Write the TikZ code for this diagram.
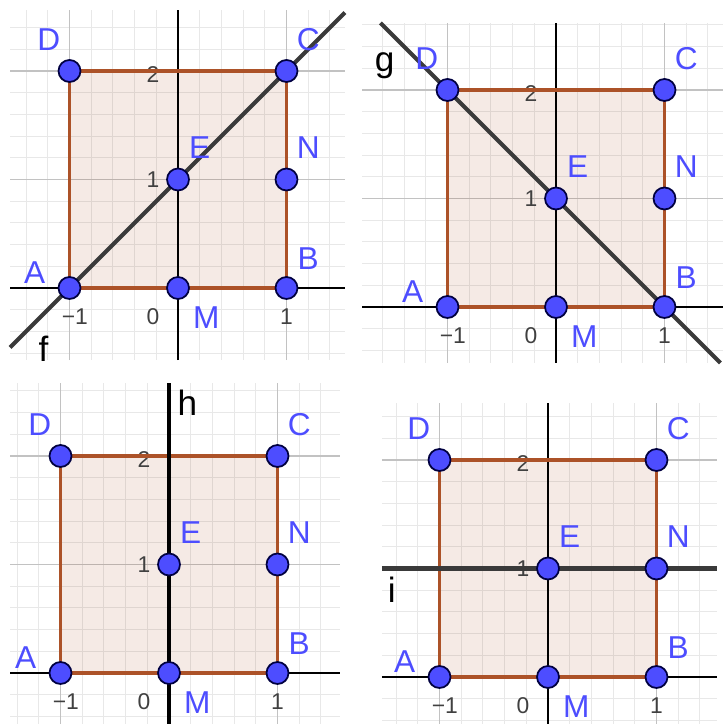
\documentclass[tikz,border=0pt]{standalone}
\usepackage{fontspec}
\setmainfont{Liberation Sans}
\usetikzlibrary{calc}

\definecolor{ggblue}{RGB}{77,77,255}
\definecolor{ggbrown}{RGB}{153,51,0}
\definecolor{ggedge}{RGB}{172,82,40}
\definecolor{ggline}{RGB}{58,58,58}

\tikzset{
  minorgrid/.style={draw=black!9,line width=0.3pt},
  majorgrid/.style={draw=black!24,line width=0.4pt},
  axisline/.style={draw=black,line width=0.45pt},
  sqfill/.style={fill=ggbrown,fill opacity=0.1},
  sqedge/.style={draw=ggedge,line width=1pt,line join=round},
  pt/.style={circle,fill=ggblue,draw=black!75!blue,line width=0.5pt,
    minimum size=0.22cm,inner sep=0pt},
  ptlbl/.style={text=ggblue,font=\fontsize{9}{10}\selectfont,inner sep=0pt},
  ticklbl/.style={text=black!75,font=\fontsize{6.5}{7}\selectfont,inner sep=0pt},
  linelbl/.style={text=black,font=\fontsize{10}{11}\selectfont,inner sep=0pt},
  bisect/.style={draw=ggline,line width=1.2pt},
}

% grid, axes, square of one panel: #1 prefix, #2..#5 xmin xmax ymin ymax
\newcommand\sqbase[5]{%
  \draw[minorgrid,step=0.2] (#2,#4) grid (#3,#5);
  \draw[majorgrid,step=1] (#2,#4) grid (#3,#5);
  \coordinate (#1a) at (-1,0);
  \coordinate (#1b) at (1,0);
  \coordinate (#1c) at (1,2);
  \coordinate (#1d) at (-1,2);
  \fill[sqfill] (#1a) -- (#1b) -- (#1c) -- (#1d) -- cycle;
  \coordinate (#1xl) at (#2,0);
  \coordinate (#1xr) at (#3,0);
  \coordinate (#1yb) at (0,#4);
  \coordinate (#1yt) at (0,#5);
  \draw[axisline] (#1xl) -- (#1xr);
  \draw[axisline] (#1yb) -- (#1yt);
  \node[ticklbl] (#1t0) at (-0.23,-0.26) {0};
  \node[ticklbl] (#1tm) at (-0.95,-0.26) {−1};
  \node[ticklbl] (#1tx) at (1.0,-0.26) {1};
  \node[ticklbl] (#1ty) at (-0.23,1) {1};
  \node[ticklbl] (#1tz) at (-0.23,1.97) {2};
  \draw[sqedge] (#1a) -- (#1b) -- (#1c) -- (#1d) -- cycle;
}

% points and their labels
\newcommand\sqpoints[1]{%
  \node[pt] (#1A) at (#1a) {};
  \node[pt] (#1B) at (#1b) {};
  \node[pt] (#1C) at (#1c) {};
  \node[pt] (#1D) at (#1d) {};
  \node[pt] (#1E) at (0,1) {};
  \node[pt] (#1M) at (0,0) {};
  \node[pt] (#1N) at (1,1) {};
  \node[ptlbl] at ($(#1A)+(-0.32,0.14)$) {A};
  \node[ptlbl] at ($(#1B)+(0.2,0.27)$) {B};
  \node[ptlbl] at ($(#1C)+(0.2,0.29)$) {C};
  \node[ptlbl] at ($(#1D)+(-0.19,0.29)$) {D};
  \node[ptlbl] at ($(#1E)+(0.2,0.29)$) {E};
  \node[ptlbl] at ($(#1M)+(0.26,-0.27)$) {M};
  \node[ptlbl] at ($(#1N)+(0.2,0.29)$) {N};
}

\begin{document}
\begin{tikzpicture}[x=1.085cm,y=1.085cm]
  \useasboundingbox (0,0) rectangle (7.23cm,7.24cm);

  % f: y = x + 1
  \begin{scope}[shift={(1.78cm,4.36cm)}]
    \sqbase{f}{-1.548}{1.539}{-0.664}{2.562}
    \coordinate (fS) at (-1.548,-0.548);
    \coordinate (fT) at (1.539,2.539);
    \draw[bisect] (fS) -- (fT);
    \node[linelbl] (flbl) at (-1.24,-0.56) {f};
    \sqpoints{f}
  \end{scope}

  % g: y = -x + 1
  \begin{scope}[shift={(5.56cm,4.17cm)}]
    \sqbase{g}{-1.788}{1.539}{-0.516}{2.618}
    \coordinate (gS) at (-1.618,2.618);
    \coordinate (gT) at (1.516,-0.516);
    \draw[bisect] (gS) -- (gT);
    \node[linelbl] (glbl) at (-1.58,2.22) {g};
    \sqpoints{g}
  \end{scope}

  % h: x = 0
  \begin{scope}[shift={(1.69cm,0.51cm)}]
    \sqbase{h}{-1.465}{1.576}{-0.47}{2.673}
    \coordinate (hS) at (0,-0.47);
    \coordinate (hT) at (0,2.673);
    \draw[bisect,draw=black] (hS) -- (hT);
    \node[linelbl] (hlbl) at (0.17,2.49) {h};
    \sqpoints{h}
  \end{scope}

  % i: y = 1
  \begin{scope}[shift={(5.48cm,0.47cm)}]
    \sqbase{i}{-1.53}{1.558}{-0.433}{2.525}
    \coordinate (iS) at (-1.53,1);
    \coordinate (iT) at (1.558,1);
    \draw[bisect] (iS) -- (iT);
    \node[linelbl] (ilbl) at (-1.44,0.8) {i};
    \sqpoints{i}
  \end{scope}
\end{tikzpicture}
\end{document}
